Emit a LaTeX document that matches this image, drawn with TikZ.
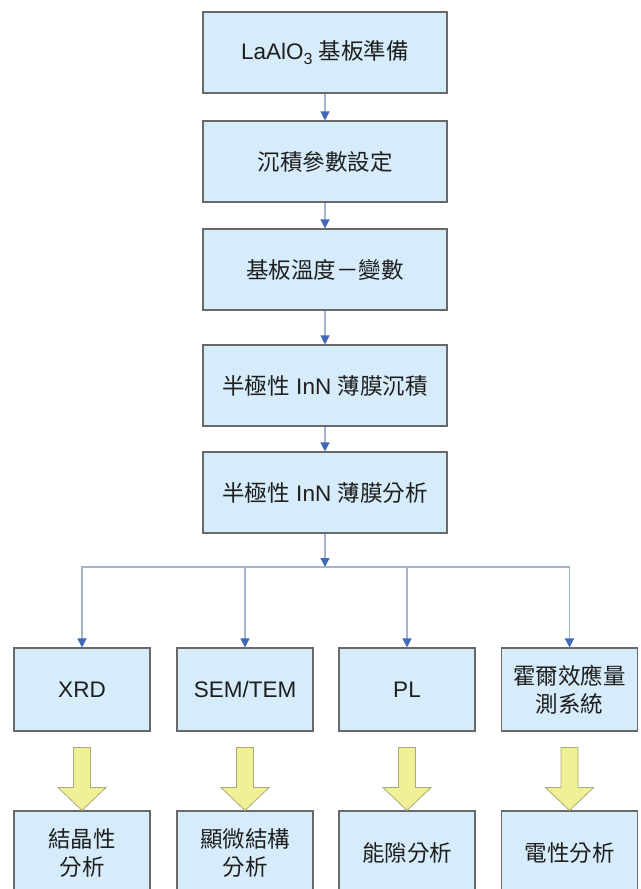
\documentclass[tikz,border=0pt]{standalone}
\usepackage{fontspec}
\setmainfont{Liberation Sans}
\newfontfamily\cjkfont{Noto Sans CJK TC}
\newcommand\cj[1]{{\cjkfont #1}}
\newcommand\mysub[1]{\raisebox{-0.35ex}{\fontsize{16}{16}\selectfont #1}}
\usetikzlibrary{arrows.meta,calc}
\definecolor{boxfill}{RGB}{214,236,250}
\definecolor{boxline}{RGB}{105,105,105}
\definecolor{connc}{RGB}{165,180,205}
\definecolor{tipblue}{RGB}{65,105,185}
\definecolor{yfill}{RGB}{240,240,150}
\definecolor{yline}{RGB}{170,170,120}
\definecolor{txt}{RGB}{30,30,30}
\begin{document}
\begin{tikzpicture}[x=1pt,y=-1pt,
 box/.style={draw=boxline,fill=boxfill,line width=1.1pt,text=txt,font=\fontsize{22.5}{28}\selectfont,align=center,inner sep=0pt},
 mainbox/.style={box,minimum width=244pt,minimum height=81pt},
 subbox/.style={box,minimum width=136pt,minimum height=83pt},
 botbox/.style={box,minimum width=136pt,minimum height=84pt},
 conn/.style={draw=connc,line width=1.3pt,-{Triangle[length=9pt,width=9pt,fill=tipblue,color=tipblue]}},
 bigarrow/.style={draw=yline,fill=yfill,line width=0.8pt,line join=miter}]
\useasboundingbox (0,0) rectangle (640,889);
\clip (0,0) rectangle (640,889);
\fill[white] (0,0) rectangle (640,889);

\node[mainbox] (b1) at (325,52.5) {LaAlO\mysub{3} \cj{基板準備}};
\node[mainbox] (b2) at (325,161.5) {\cj{沉積參數設定}};
\node[mainbox] (b3) at (325,269.5) {\cj{基板溫度－變數}};
\node[mainbox] (b4) at (325,385.5) {\cj{半極性} InN \cj{薄膜沉積}};
\node[mainbox] (b5) at (325,492.5) {\cj{半極性} InN \cj{薄膜分析}};

\node[subbox] (xrd) at (82,689.5) {XRD};
\node[subbox] (sem) at (245,689.5) {SEM/TEM};
\node[subbox] (pl) at (407,689.5) {PL};
\node[subbox] (hall) at (569.5,689.5) {\cj{霍爾效應量}\\\cj{測系統}};

\node[botbox] (r1) at (82,853) {\cj{結晶性}\\\cj{分析}};
\node[botbox] (r2) at (245,853) {\cj{顯微結構}\\\cj{分析}};
\node[botbox] (r3) at (407,853) {\cj{能隙分析}};
\node[botbox] (r4) at (569.5,853) {\cj{電性分析}};

\draw[conn] (b1) -- (b2);
\draw[conn] (b2) -- (b3);
\draw[conn] (b3) -- (b4);
\draw[conn] (b4) -- (b5);
\coordinate (hub) at (325,567);
\draw[conn] (b5) -- (hub);
\foreach \n in {xrd,sem,pl,hall}{
  \draw[conn] (hub) -| (\n.north);
}
\foreach \n/\m in {xrd/r1,sem/r2,pl/r3,hall/r4}{
  \draw[bigarrow] ([shift={(-8.5,16)}]\n.south) -- ([shift={(8.5,16)}]\n.south)
    -- ([shift={(8.5,56)}]\n.south) -- ([shift={(24,56)}]\n.south)
    -- (\m.north) -- ([shift={(-24,56)}]\n.south)
    -- ([shift={(-8.5,56)}]\n.south) -- cycle;
}
\end{tikzpicture}
\end{document}
